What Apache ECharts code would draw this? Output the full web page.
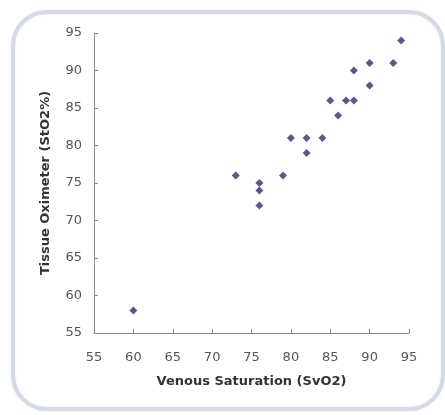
<!DOCTYPE html>
<html><head><meta charset="utf-8">
<script src="https://cdn.jsdelivr.net/npm/echarts@6/dist/echarts.min.js"></script>
<style>html,body{margin:0;padding:0;background:#fff}#c{width:445px;height:415px}</style>
</head><body><div id="c"></div>
<script>
const svo2 = [60, 73, 76, 76, 76, 79, 80, 82, 82, 84, 85, 86, 87, 88, 88, 90, 90, 93, 94];
const sto2 = [58, 76, 75, 74, 72, 76, 81, 81, 79, 81, 86, 84, 86, 86, 90, 91, 88, 91, 94];
const xTitle = 'Venous Saturation (SvO2)';
const yTitle = 'Tissue Oximeter (StO2%)';

const chart = echarts.init(document.getElementById('c'));
const pts = svo2.map((x, i) => [x, sto2[i]]);
const labelFont = { fontFamily: 'DejaVu Sans', fontSize: 13, color: '#555' };
const titleFont = { fontFamily: 'DejaVu Sans', fontWeight: 'bold', fontSize: 13, color: '#333' };
chart.setOption({
  animation: false,
  graphic: [{
    type: 'rect', left: 11, top: 10, z: -1,
    shape: { width: 430, height: 397, r: 34 },
    style: { fill: '#fff', stroke: '#d3dbe6', lineWidth: 4, shadowBlur: 2, shadowColor: 'rgba(190,200,215,0.4)' }
  }],
  grid: { left: 94, right: 36, top: 33, bottom: 82 },
  xAxis: {
    type: 'value', min: 55, max: 95, interval: 5,
    name: xTitle, nameLocation: 'middle', nameGap: 42,
    nameTextStyle: titleFont,
    axisLine: { lineStyle: { color: '#8a8a8a', width: 1 } },
    axisTick: { inside: true, length: 4, lineStyle: { color: '#8a8a8a' } },
    axisLabel: Object.assign({ margin: 18 }, labelFont),
    splitLine: { show: false }
  },
  yAxis: {
    type: 'value', min: 55, max: 95, interval: 5,
    name: yTitle, nameLocation: 'middle', nameGap: 42, nameRotate: 90,
    nameTextStyle: titleFont,
    axisLine: { show: true, lineStyle: { color: '#8a8a8a', width: 1 } },
    axisTick: { show: true, inside: true, length: 4, lineStyle: { color: '#8a8a8a' } },
    axisLabel: Object.assign({ margin: 12 }, labelFont),
    splitLine: { show: false }
  },
  series: [{
    type: 'scatter', data: pts, symbol: 'diamond', symbolSize: 8,
    itemStyle: { color: '#2f2f6a' }
  }]
});
</script></body></html>
